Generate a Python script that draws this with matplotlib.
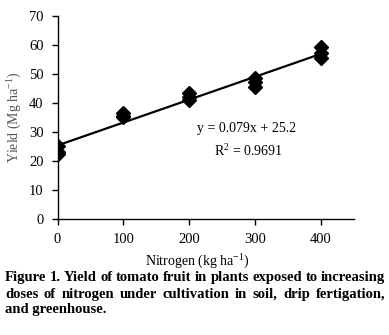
import matplotlib
matplotlib.use('Agg')
import matplotlib.pyplot as plt
import numpy as np

# Nitrogen doses (kg ha-1) and yields (three reps per dose)
nitrogen = [0, 0, 0, 100, 100, 100, 200, 200, 200, 300, 300, 300, 400, 400, 400]
yield_mg = [25.0, 23.0, 22.3, 36.3, 35.5, 35.0, 43.5, 42.0, 41.0, 48.5, 47.0, 45.5, 59.3, 57.0, 55.3]

x_ticks = [0, 100, 200, 300, 400]
y_ticks = [0, 10, 20, 30, 40, 50, 60, 70]

caption_lines = [
    'Figure 1. Yield of tomato fruit in plants exposed to increasing',
    'doses of nitrogen under cultivation in soil, drip fertigation,',
    'and greenhouse.',
]

plt.rcParams['font.family'] = ['Liberation Serif', 'DejaVu Serif']
plt.rcParams['mathtext.fontset'] = 'custom'
plt.rcParams['mathtext.rm'] = 'Liberation Serif'
plt.rcParams['mathtext.default'] = 'regular'

fig = plt.figure(figsize=(3.89, 3.35), dpi=100)
ax = fig.add_axes([0.148, 0.347, 0.762, 0.606])

# linear fit through all points
slope, intercept = np.polyfit(nitrogen, yield_mg, 1)
xs = np.array([0, 400])
ax.plot(xs, slope * xs + intercept, color='black', linewidth=1.6, zorder=2)
ax.plot(nitrogen, yield_mg, linestyle='none', marker='D', markersize=7.5,
        color='black', zorder=3)

ax.set_xlim(0, 450)
ax.set_ylim(0, 70)
ax.set_xticks(x_ticks)
ax.set_yticks(y_ticks)
ax.tick_params(direction='out', length=4, width=1, labelsize=10.5, pad=6)
for side in ['top', 'right']:
    ax.spines[side].set_visible(False)
for side in ['left', 'bottom']:
    ax.spines[side].set_linewidth(1)

ax.set_ylabel('Yield (Mg ha$^{-1}$)', fontsize=10, color='#555555', labelpad=4)

ax.text(287, 31, 'y = 0.079x + 25.2', fontsize=10, ha='center', va='center')
ax.text(290, 23.3, 'R$^{2}$ = 0.9691', fontsize=10, ha='center', va='center')

fig.text(0.507, 0.219, 'Nitrogen (kg ha$^{-1}$)', fontsize=10, ha='center', va='center')

# justified bold caption
fig.canvas.draw()
renderer = fig.canvas.get_renderer()
x_left, x_right = 5 / 389, 385 / 389
line_y = [0.171, 0.122, 0.076]
for i, line in enumerate(caption_lines):
    words = line.split(' ')
    if i == len(caption_lines) - 1:
        fig.text(x_left, line_y[i], line, fontsize=10.5, fontweight='bold',
                 ha='left', va='center')
        continue
    texts = [fig.text(0, line_y[i], w, fontsize=10.5, fontweight='bold',
                      ha='left', va='center') for w in words]
    widths = [t.get_window_extent(renderer).width / fig.bbox.width for t in texts]
    gap = (x_right - x_left - sum(widths)) / (len(words) - 1)
    pos = x_left
    for t, w in zip(texts, widths):
        t.set_x(pos)
        pos += w + gap

fig.savefig('out.png', dpi=100)
